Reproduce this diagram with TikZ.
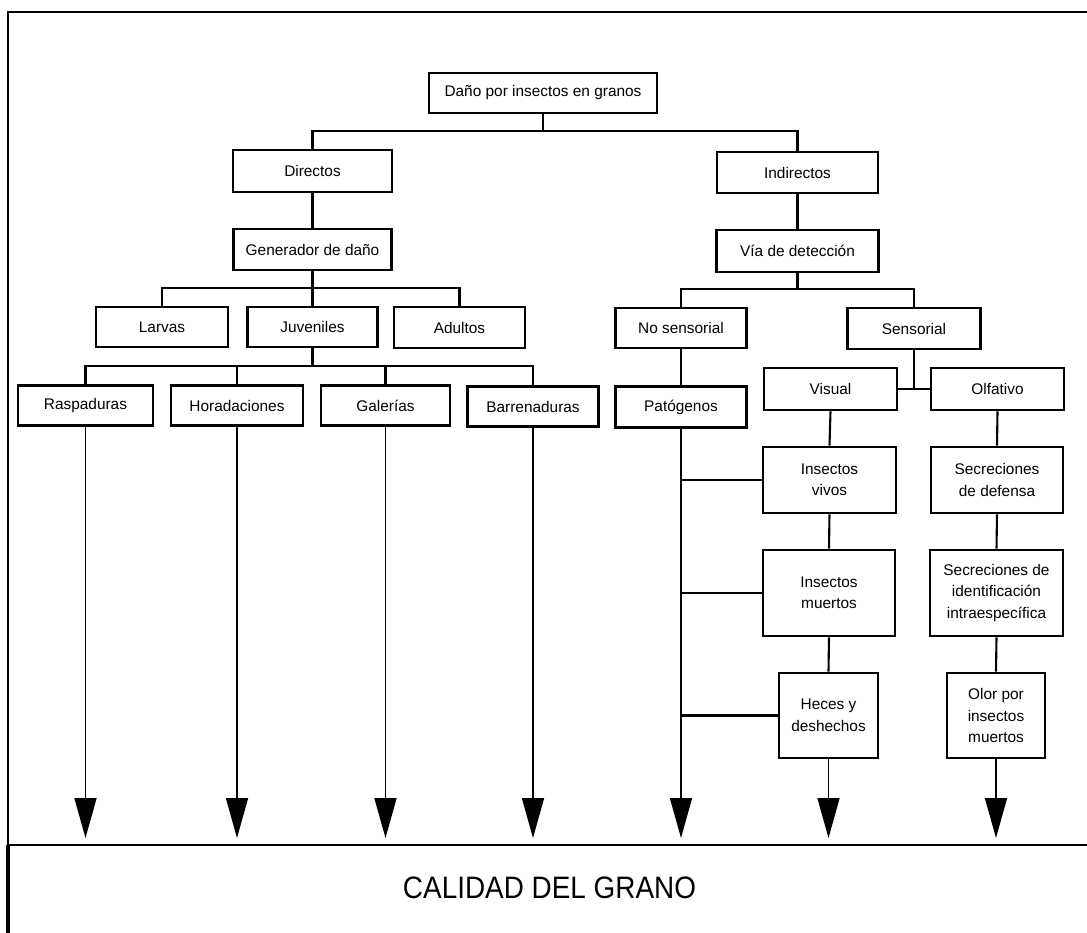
\documentclass[tikz,border=0pt]{standalone}
\usepackage{fontspec}
\usepackage{graphicx}
\setmainfont{Liberation Sans}
\usetikzlibrary{arrows.meta}
\begin{document}
\begin{tikzpicture}[x=1pt,y=-1pt,
  box/.style={draw=black, line width=2.6pt, inner sep=2pt, align=center,
              font=\fontsize{15.4}{21.5}\selectfont},
  link/.style={line width=2.1pt},
  branch/.style={line width=2.6pt},
  drop/.style={line width=1.7pt, -{Triangle[length=40pt,width=22pt]}},
  frame/.style={line width=2.2pt}]
\useasboundingbox (0,0) rectangle (1087,933);

% frame
\coordinate (ftl) at (8,12);
\coordinate (ftr) at (1087,12);
\coordinate (fml) at (8,845);
\coordinate (fmr) at (1087,845);
\coordinate (fbl) at (8,933);
\draw[frame] (ftr) -- (ftl) -- (fml);
\draw[line width=3.2pt] (fml) -- (fbl);
\draw[frame] (fml) -- (fmr);

% nodes
\node[box, minimum width=228pt, minimum height=40pt] (top) at (543,93) {Daño por insectos en granos};
\node[box, minimum width=159pt, minimum height=42pt] (dir) at (312.5,171) {Directos};
\node[box, minimum width=161pt, minimum height=41pt] (ind) at (797.5,172.5) {Indirectos};
\node[box, minimum width=158pt, minimum height=41pt] (gen) at (312.5,249.5) {Generador de daño};
\node[box, minimum width=162pt, minimum height=42pt] (via) at (797.5,251) {Vía de detección};
\node[box, minimum width=132pt, minimum height=40pt] (lar) at (162,327) {Larvas};
\node[box, minimum width=130pt, minimum height=40pt] (juv) at (312.5,327) {Juveniles};
\node[box, minimum width=131pt, minimum height=41pt] (adu) at (459.5,327.5) {Adultos};
\node[box, minimum width=131pt, minimum height=40pt] (nos) at (681,328) {No sensorial};
\node[box, minimum width=133pt, minimum height=41pt] (sen) at (914,328.5) {Sensorial};
\node[box, minimum width=135pt, minimum height=40pt] (ras) at (85.5,405.5) {Raspaduras};
\node[box, minimum width=132pt, minimum height=40pt] (hor) at (237,405.5) {Horadaciones};
\node[box, minimum width=129pt, minimum height=40pt] (gal) at (385.5,405.5) {Galerías};
\node[box, minimum width=131pt, minimum height=40pt] (bar) at (533,406.5) {Barrenaduras};
\node[box, minimum width=131pt, minimum height=41pt] (pat) at (681,407) {Patógenos};
\node[box, minimum width=133pt, minimum height=42pt] (vis) at (830.5,389) {Visual};
\node[box, minimum width=133pt, minimum height=42pt] (olf) at (997.5,389) {Olfativo};
\node[box, minimum width=133pt, minimum height=66pt] (viv) at (829.5,480) {Insectos\\vivos};
\node[box, minimum width=132pt, minimum height=66pt] (def) at (997,480) {Secreciones\\de defensa};
\node[box, minimum width=132pt, minimum height=86pt] (mue) at (829,593) {Insectos\\muertos};
\node[box, minimum width=133pt, minimum height=86pt] (ide) at (996.5,593) {Secreciones de\\identificación\\intraespecífica};
\node[box, minimum width=99pt, minimum height=85pt] (hec) at (828.5,715.5) {Heces y\\deshechos};
\node[box, minimum width=98pt, minimum height=85pt] (olo) at (996,715.5) {Olor por\\insectos\\muertos};

\node[anchor=base, inner sep=0pt, font=\fontsize{31}{36}\selectfont] (cal) at (549.5,898)
  {\scalebox{0.9}[1]{CALIDAD DEL GRANO}};

% junctions
\coordinate (j1) at (543,131);
\coordinate (j2) at (312.5,288);
\coordinate (j3) at (312.5,366);
\coordinate (j4) at (797.5,289);
\coordinate (tipline) at (0,838);

% tree connectors
\draw[link] (top.south) -- (j1);
\draw[link] (dir.north) |- (j1) -| (ind.north);
\draw[link] (dir.south) -- (gen.north);
\draw[link] (ind.south) -- (via.north);
\draw[link] (gen.south) -- (juv.north);
\draw[link] (lar.north) |- (j2) -| (adu.north);
\draw[link] (juv.south) -- (j3);
\draw[link] (ras.north) |- (j3) -| (bar.north);
\draw[link] (hor.north) -- (hor.north |- j3);
\draw[link] (gal.north) -- (gal.north |- j3);
\draw[link] (via.south) -- (j4);
\draw[link] (nos.north) |- (j4) -| (sen.north);
\draw[link] (nos.south) -- (pat.north);
\draw[link] (vis.east) -- (olf.west);
\draw[link] (sen.south) -- (sen.south |- vis.east);
\draw[link] (vis.south) -- (viv.north);
\draw[link] (viv.south) -- (mue.north);
\draw[link] (mue.south) -- (hec.north);
\draw[link] (olf.south) -- (def.north);
\draw[link] (def.south) -- (ide.north);
\draw[link] (ide.south) -- (olo.north);

% branches from Patogenos line
\draw[branch] (pat.south |- viv.west) -- (viv.west);
\draw[branch] (pat.south |- mue.west) -- (mue.west);
\draw[branch] (pat.south |- hec.west) -- (hec.west);

% arrows to grain quality
\draw[drop] (ras.south) -- (ras.south |- tipline);
\draw[drop] (hor.south) -- (hor.south |- tipline);
\draw[drop] (gal.south) -- (gal.south |- tipline);
\draw[drop] (bar.south) -- (bar.south |- tipline);
\draw[drop] (pat.south) -- (pat.south |- tipline);
\draw[drop] (hec.south) -- (hec.south |- tipline);
\draw[drop] (olo.south) -- (olo.south |- tipline);
\end{tikzpicture}
\end{document}
